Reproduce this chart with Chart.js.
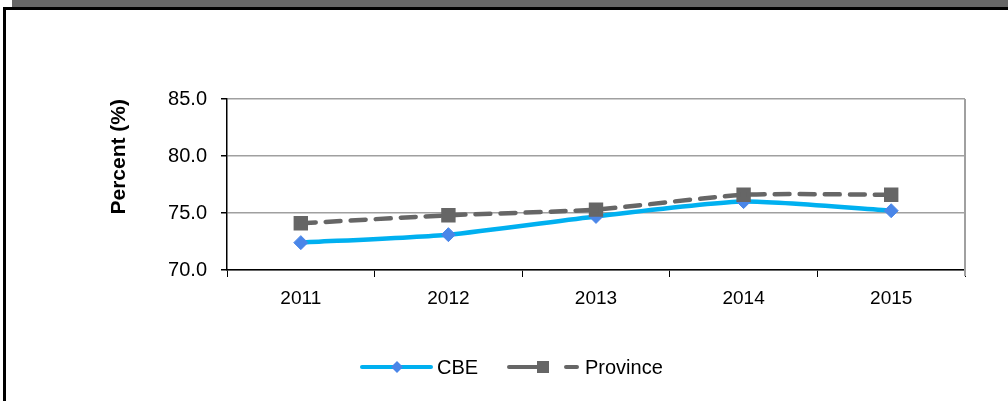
<!DOCTYPE html>
<html lang="en">
<head>
    <meta charset="UTF-8">
    <title>Percent chart</title>
    <script src="https://cdn.jsdelivr.net/npm/chart.js"></script>
    <style>
        * {
            box-sizing: border-box;
            margin: 0;
            padding: 0;
        }

        body {
            width: 1008px;
            height: 401px;
            overflow: hidden;
            background-color: #fff;
            position: relative;
            font-family: Arial, "Liberation Sans", sans-serif;
        }

        .top-band {
            position: absolute;
            left: 12px;
            top: 0;
            width: 996px;
            height: 7px;
            background-color: #666;
        }

        .frame {
            position: absolute;
            left: 3px;
            top: 7px;
            width: 1020px;
            height: 410px;
            border: 3px solid #000;
        }

        .chart-box {
            position: absolute;
            left: 0;
            top: 0;
            width: 1008px;
            height: 401px;
        }
    </style>
</head>
<body>
    <div class="top-band"></div>
    <div class="frame"></div>
    <div class="chart-box">
        <canvas id="lineChart"></canvas>
    </div>

    <script>
        // data
        const years = ['2011', '2012', '2013', '2014', '2015'];
        const cbeValues = [72.4, 73.1, 74.7, 76.0, 75.2];
        const provinceValues = [74.1, 74.8, 75.3, 76.6, 76.6];
        const yTicks = [70, 75, 80, 85];

        const fontFamily = 'Arial, "Liberation Sans", sans-serif';

        // right edge of the plot area + legend below it
        const framePlugin = {
            id: 'frameAndLegend',
            beforeDatasetsDraw(chart) {
                const ctx = chart.ctx;
                const a = chart.chartArea;
                ctx.save();
                ctx.strokeStyle = '#a0a0a0';
                ctx.lineWidth = 2;
                ctx.beginPath();
                ctx.moveTo(a.right, a.top);
                ctx.lineTo(a.right, a.bottom + 6);
                ctx.stroke();
                ctx.restore();
            },
            afterDraw(chart) {
                const ctx = chart.ctx;
                const ds = chart.data.datasets;
                const y = 367;
                ctx.save();
                ctx.font = '20px ' + fontFamily;
                ctx.fillStyle = '#000';
                ctx.textBaseline = 'middle';

                // CBE entry
                ctx.strokeStyle = ds[0].borderColor;
                ctx.lineWidth = 4;
                ctx.lineCap = 'round';
                ctx.beginPath();
                ctx.moveTo(362, y);
                ctx.lineTo(431, y);
                ctx.stroke();
                ctx.fillStyle = ds[0].pointBackgroundColor;
                ctx.beginPath();
                ctx.moveTo(397, y - 6);
                ctx.lineTo(403, y);
                ctx.lineTo(397, y + 6);
                ctx.lineTo(391, y);
                ctx.closePath();
                ctx.fill();
                ctx.fillStyle = '#000';
                ctx.fillText(ds[0].label, 437, y + 1);

                // Province entry
                ctx.strokeStyle = ds[1].borderColor;
                ctx.beginPath();
                ctx.moveTo(509, y);
                ctx.lineTo(540, y);
                ctx.moveTo(566, y);
                ctx.lineTo(577, y);
                ctx.stroke();
                ctx.fillStyle = ds[1].pointBackgroundColor;
                ctx.fillRect(537, y - 6, 12, 12);
                ctx.fillStyle = '#000';
                ctx.fillText(ds[1].label, 585, y + 1);
                ctx.restore();
            }
        };

        const ctx = document.getElementById('lineChart').getContext('2d');
        const lineChart = new Chart(ctx, {
            type: 'line',
            data: {
                labels: years,
                datasets: [{
                    label: 'CBE',
                    data: cbeValues,
                    borderColor: '#00b0f0',
                    borderWidth: 4.5,
                    pointStyle: 'rectRot',
                    pointRadius: 7,
                    pointBackgroundColor: '#4a86e8',
                    pointBorderColor: '#4a86e8',
                    pointBorderWidth: 1,
                    tension: 0.2,
                    order: 1
                }, {
                    label: 'Province',
                    data: provinceValues,
                    borderColor: '#666666',
                    borderWidth: 4.5,
                    borderDash: [15, 10],
                    borderCapStyle: 'round',
                    pointStyle: 'rect',
                    pointRadius: 7,
                    pointBackgroundColor: '#666666',
                    pointBorderColor: '#666666',
                    tension: 0.2,
                    order: 0
                }]
            },
            options: {
                responsive: true,
                maintainAspectRatio: false,
                animation: false,
                devicePixelRatio: 1,
                layout: {
                    padding: { left: 107, right: 43, top: 99, bottom: 0 }
                },
                plugins: {
                    legend: { display: false },
                    tooltip: { enabled: false }
                },
                scales: {
                    x: {
                        offset: true,
                        grid: {
                            offset: true,
                            drawOnChartArea: false,
                            drawTicks: true,
                            tickLength: 7,
                            tickColor: '#000'
                        },
                        border: { color: '#000', width: 1.5 },
                        ticks: {
                            color: '#000',
                            padding: 10,
                            font: { family: fontFamily, size: 19 }
                        },
                        afterFit(scale) {
                            scale.height = 131;
                        }
                    },
                    y: {
                        min: 70,
                        max: 85,
                        afterBuildTicks(scale) {
                            scale.ticks = yTicks.map(v => ({ value: v }));
                        },
                        grid: {
                            color: '#a0a0a0',
                            lineWidth: 1.5,
                            tickColor: '#000',
                            tickLength: 6
                        },
                        border: { color: '#000', width: 1.5 },
                        ticks: {
                            color: '#000',
                            padding: 14,
                            font: { family: fontFamily, size: 20 },
                            callback: v => v.toFixed(1)
                        },
                        title: {
                            display: true,
                            text: 'Percent (%)',
                            align: 'end',
                            color: '#000',
                            padding: 0,
                            font: { family: fontFamily, size: 21, weight: 'bold' }
                        },
                        afterFit(scale) {
                            scale.width = 120;
                        }
                    }
                }
            },
            plugins: [framePlugin]
        });
    </script>
</body>
</html>
